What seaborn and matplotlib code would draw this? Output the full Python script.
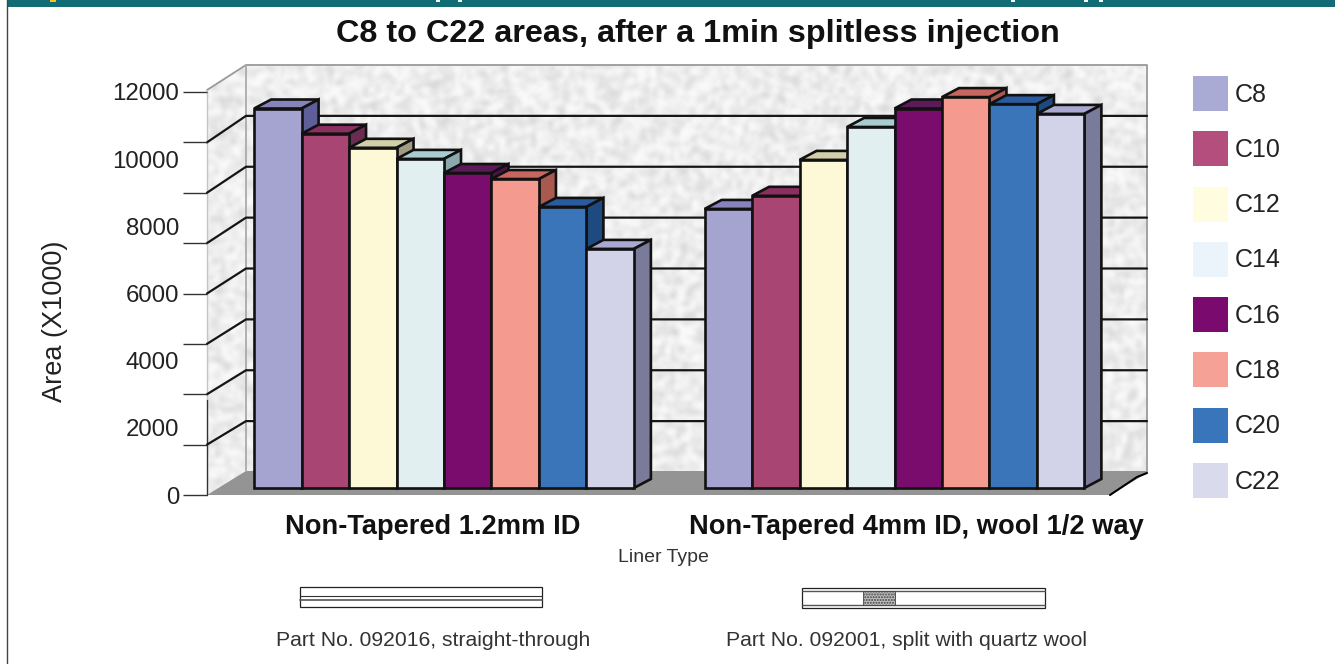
'''C8 to C22 areas, barras com aparencia 3D'''

import numpy as np
import pandas as pd
import matplotlib
matplotlib.use('Agg')
import matplotlib.pyplot as plt
from matplotlib.patches import Polygon, Rectangle, Patch
import seaborn as sns

sns.set_theme(style='white')
plt.rcParams['font.family'] = ['Liberation Sans', 'DejaVu Sans']

# dados =======================================================================
liners = ['Non-Tapered 1.2mm ID', 'Non-Tapered 4mm ID, wool 1/2 way']
compostos = ['C8', 'C10', 'C12', 'C14', 'C16', 'C18', 'C20', 'C22']
area_liner_1 = [11300, 10550, 10130, 9800, 9380, 9200, 8370, 7120]
area_liner_2 = [8310, 8700, 9770, 10750, 11300, 11640, 11430, 11140]
y_labels = [0, 2000, 4000, 6000, 8000, 10000, 12000]
y_ticks = [0, 1500, 3000, 4500, 6000, 7500, 9000, 10500, 12000]
pecas = ['Part No. 092016, straight-through', 'Part No. 092001, split with quartz wool']

cor_frente = ['#a5a3d0', '#a84573', '#fdf8d5', '#e2eff1', '#7a0c6e', '#f49a8e', '#3a74b9', '#d2d3e8']
cor_topo = ['#8583ba', '#8a2f60', '#d2ceaa', '#a8cdd0', '#5c1a58', '#c8655e', '#2a5aa0', '#a9a8d0']
cor_lado = ['#5e5f9a', '#6a2c50', '#a09c84', '#8ba8ac', '#4f1248', '#a85a50', '#1f4a80', '#7a7a9a']
cor_legenda = ['#aaabd4', '#b44e7c', '#fffce0', '#ecf4fb', '#7b0a6e', '#f5a195', '#3875bb', '#d9daec']

df = pd.DataFrame({
    'liner': [liners[0]] * 8 + [liners[1]] * 8,
    'composto': compostos * 2,
    'area': area_liner_1 + area_liner_2,
})

W, H = 1335, 664
fig = plt.figure(figsize=(W / 100, H / 100), dpi=100, facecolor='white')

# fundo em coordenadas de pixel ===============================================
bg = fig.add_axes([0, 0, 1, 1], zorder=0)
bg.set_xlim(0, W)
bg.set_ylim(H, 0)
bg.axis('off')

bg.add_patch(Rectangle((7, 0), W - 7, 7, color='#116c75', lw=0))
bg.plot([7, 7], [0, H], color='#444444', lw=1)
bg.add_patch(Rectangle((50, 0), 6, 1.5, color='#f5c518', lw=0))
for x in [436, 458, 1011, 1084, 1099]:
    bg.add_patch(Rectangle((x, 0), 4, 1.5, color='white', lw=0))

# textura da parede (ruido por hash, nao e dado)
yy, xx = np.mgrid[0:147, 0:320]
ruido = np.sin(xx * 12.9898 + yy * 78.233) * 43758.5453
ruido = ruido - np.floor(ruido)
ruido = (ruido + np.roll(ruido, 1, 0) + np.roll(ruido, -1, 0) + np.roll(ruido, 1, 1) + np.roll(ruido, -1, 1)) / 5
ruido = (ruido - ruido.mean()) / ruido.std()
textura = np.clip(237 + ruido * 8, 212, 250)
img = bg.imshow(textura, extent=(200, 1160, 500, 60), cmap='gray', vmin=0, vmax=255,
                aspect='auto', zorder=1, interpolation='bicubic')
parede = Polygon([(207, 90), (246, 65), (1147, 65), (1147, 472), (246, 472), (207, 495)],
                 transform=bg.transData, fc='none', ec='none')
bg.add_patch(parede)
img.set_clip_path(parede)
bg.set_xlim(0, W)
bg.set_ylim(H, 0)

bg.add_patch(Polygon([(207, 495), (246, 471), (1147, 471), (1147, 473), (1110, 495)],
                     fc='#949494', ec='none', zorder=2))
bg.plot([207, 246, 1147, 1147], [90, 65, 65, 472], color='#9a9a9a', lw=1.3, zorder=3)
bg.plot([246, 246], [65, 471], color='#aaaaaa', lw=1.3, zorder=3)
bg.plot([207, 207], [90, 400], color='#c4c4c4', lw=1, zorder=3)
bg.plot([207, 207], [400, 495], color='#333333', lw=1, zorder=3)
bg.plot([1110, 1137, 1147], [495, 477, 473], color='black', lw=1.5, zorder=3)

# grades de 1500 em 1500 na parede
for v in y_ticks[1:-1]:
    y_f = 495 - v * 403 / 12000
    y_b = 472 - v * 407 / 12000
    bg.plot([207, 246, 1147], [y_f, y_b, y_b], color='#151515', lw=1.6, zorder=3)

# barras ======================================================================
ax = fig.add_axes([0, 0, 1, 1], zorder=2)
ax.patch.set_alpha(0)
sns.barplot(data=df, x='liner', y='area', hue='composto', order=liners, hue_order=compostos,
            palette=cor_frente, width=0.843, gap=0, dodge=True, legend=False, saturation=1,
            edgecolor='#111111', linewidth=1.9, errorbar=None, ax=ax)

px_x = 1 / 450.5
px_y = 12000 / 403
ax.set_xlim(-444 * px_x, (W - 444) * px_x)
ax.set_ylim(-(H - 488) * px_y, 488 * px_y)
ax.set_axis_off()

# faces de cima e do lado, da esquerda para a direita
dx, dy = 17 * px_x, 9 * px_y
barras = sorted(ax.patches, key=lambda b: b.get_x())
for i, b in enumerate(barras):
    k = i % 8
    x0, x1, h = b.get_x(), b.get_x() + b.get_width(), b.get_height()
    b.set_zorder(10 + i * 2 + 1)
    ax.add_patch(Polygon([(x0, h), (x0 + dx, h + dy), (x1 + dx, h + dy), (x1, h)],
                         fc=cor_topo[k], ec='#111111', lw=1.9, zorder=10 + i * 2))
    ax.add_patch(Polygon([(x1, 0), (x1 + dx, dy), (x1 + dx, h + dy), (x1, h)],
                         fc=cor_lado[k], ec='#111111', lw=1.9, zorder=10 + i * 2))

# eixo y ======================================================================
ax_y = fig.add_axes([207 / W, 1 - 495 / H, 0.001, 403 / H], zorder=1)
ax_y.patch.set_alpha(0)
ax_y.set_ylim(0, 12000)
ax_y.set_xticks([])
for s in ax_y.spines.values():
    s.set_visible(False)
ax_y.yaxis.remove_overlapping_locs = False
ax_y.set_yticks(y_labels)
ax_y.set_yticklabels([str(v) for v in y_labels])
ax_y.set_yticks(y_ticks, minor=True)
ax_y.tick_params(axis='y', which='major', length=0, pad=20, labelsize=17.3, labelcolor='#222222')
ax_y.tick_params(axis='y', which='minor', left=True, length=17, width=1, color='#333333')
fig.text(55 / W, 1 - 321 / H, 'Area (X1000)', rotation=90, ha='center', va='center',
         fontsize=19.5, color='#222222')

# textos ======================================================================
fig.text(698 / W, 1 - 34 / H, 'C8 to C22 areas, after a 1min splitless injection',
         ha='center', va='center', fontsize=23.3, fontweight='bold', color='#111111')
fig.text(433 / W, 1 - 527 / H, liners[0], ha='center', va='center', fontsize=19.6,
         fontweight='bold', color='#111111')
fig.text(916 / W, 1 - 527 / H, liners[1], ha='center', va='center', fontsize=19.6,
         fontweight='bold', color='#111111')
fig.text(663 / W, 1 - 558 / H, 'Liner Type', ha='center', va='center', fontsize=14, color='#333333')
fig.text(433 / W, 1 - 640 / H, pecas[0], ha='center', va='center', fontsize=15.2, color='#333333')
fig.text(907 / W, 1 - 640 / H, pecas[1], ha='center', va='center', fontsize=15.2, color='#333333')

# desenhos dos liners
bg.add_patch(Rectangle((300, 587), 242, 20, fc='white', ec='#222222', lw=0.9, zorder=3))
bg.plot([300, 542], [595.5, 595.5], color='#333333', lw=0.8, zorder=4)
bg.plot([300, 542], [600, 600], color='#555555', lw=1.2, zorder=4)
bg.add_patch(Rectangle((802, 588), 243, 20, fc='white', ec='#222222', lw=0.9, zorder=3))
bg.plot([802, 1045], [591, 591], color='#555555', lw=1.0, zorder=4)
bg.plot([802, 1045], [604.5, 604.5], color='#555555', lw=1.0, zorder=4)
bg.add_patch(Rectangle((863, 591), 32, 14, fc='#bdbdbd', ec='#444444', lw=0.6, hatch='......', zorder=5))

# legenda =====================================================================
fs = 18
fs_px = fs * 100 / 72
alt = (35 / fs_px - 0.245) / 0.65
handles = [Patch(fc=c, ec='none') for c in cor_legenda]
ax.legend(handles, compostos, loc='upper left', bbox_to_anchor=(1193 / W, 1 - 76 / H), bbox_transform=fig.transFigure,
          frameon=False, fontsize=fs, handlelength=35 / fs_px, handleheight=alt,
          labelspacing=(55.3 - 35) / fs_px, handletextpad=7 / fs_px, borderpad=0, borderaxespad=0,
          labelcolor='#222222')

fig.savefig('out.png', dpi=100)
